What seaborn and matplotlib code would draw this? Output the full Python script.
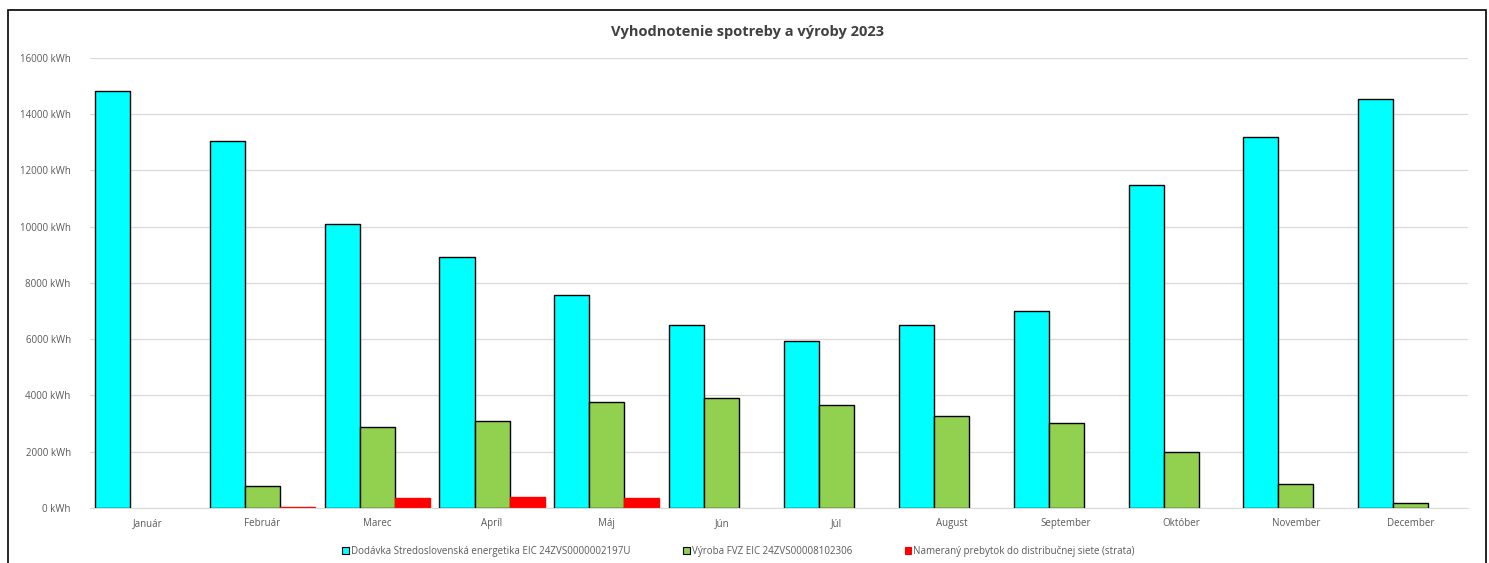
import pandas as pd
import matplotlib
matplotlib.use("Agg")
import matplotlib.pyplot as plt
import matplotlib.patches as mpatches
import seaborn as sns

# data (kWh)
months = ["Január", "Február", "Marec", "Apríl", "Máj", "Jún",
          "Júl", "August", "September", "Október", "November", "December"]
dodavka = [14830, 13050, 10100, 8920, 7570, 6510, 5940, 6490, 7000, 11480, 13190, 14540]
vyroba = [0, 780, 2880, 3090, 3770, 3910, 3660, 3270, 3020, 1990, 850, 170]
prebytok = [0, 40, 350, 390, 360, 0, 0, 0, 0, 0, 0, 0]

series = ["Dodávka Stredoslovenská energetika EIC 24ZVS0000002197U",
          "Výroba FVZ EIC 24ZVS00008102306",
          "Nameraný prebytok do distribučnej siete (strata)"]
colors = ["#00FFFF", "#92D050", "#FF0000"]
edges = ["black", "black", "#FF0000"]

df = pd.DataFrame({
    "month": months * 3,
    "value": dodavka + vyroba + prebytok,
    "series": [series[0]] * 12 + [series[1]] * 12 + [series[2]] * 12,
})

sns.set_style("white")
plt.rcParams["font.family"] = ["Open Sans", "DejaVu Sans"]

fig = plt.figure(figsize=(14.89, 5.63), dpi=100)
ax = fig.add_axes([0.0605, 0.0977, 0.9255, 0.7993])

sns.barplot(data=df, x="month", y="value", hue="series", hue_order=series,
            palette=colors, saturation=1, width=0.915, gap=0,
            edgecolor="black", linewidth=1.0, ax=ax, legend=False)

# red bars without black outline, empty bars without any outline
for cont, ec in zip(ax.containers, edges):
    for bar in cont:
        bar.set_edgecolor(ec)
        if bar.get_height() == 0:
            bar.set_linewidth(0)

ax.set_ylim(0, 16000)
ax.set_xlim(-0.5, 11.5)
ax.set_yticks(range(0, 16001, 2000))
ax.set_yticklabels([f"{v} kWh" for v in range(0, 16001, 2000)])
ax.yaxis.grid(True, color="#D9D9D9", linewidth=0.9)
ax.set_axisbelow(True)
ax.tick_params(axis="both", length=0, labelsize=7, labelcolor="#595959")
ax.tick_params(axis="x", pad=7)
ax.tick_params(axis="y", pad=14)
ax.set_xlabel("")
ax.set_ylabel("")
for s in ["top", "right", "left"]:
    ax.spines[s].set_visible(False)
ax.spines["bottom"].set_color("#D9D9D9")

fig.suptitle("Vyhodnotenie spotreby a výroby 2023", x=0.502, y=0.955,
             fontsize=10.5, fontweight="bold", color="#404040")

handles = [mpatches.Patch(facecolor=c, edgecolor=e, linewidth=0.8)
           for c, e in zip(colors, edges)]
fig.legend(handles, series, loc="center", bbox_to_anchor=(0.496, 0.021),
           ncol=3, frameon=False, fontsize=7, labelcolor="#595959",
           handlelength=0.7, handleheight=0.7, handletextpad=0.2,
           columnspacing=5.4)

# outer chart border
fig.patches.append(mpatches.Rectangle((0.0054, -0.01), 0.9926, 0.992,
                                      transform=fig.transFigure, fill=False,
                                      edgecolor="black", linewidth=1.2))

fig.savefig("out.png", dpi=100)
